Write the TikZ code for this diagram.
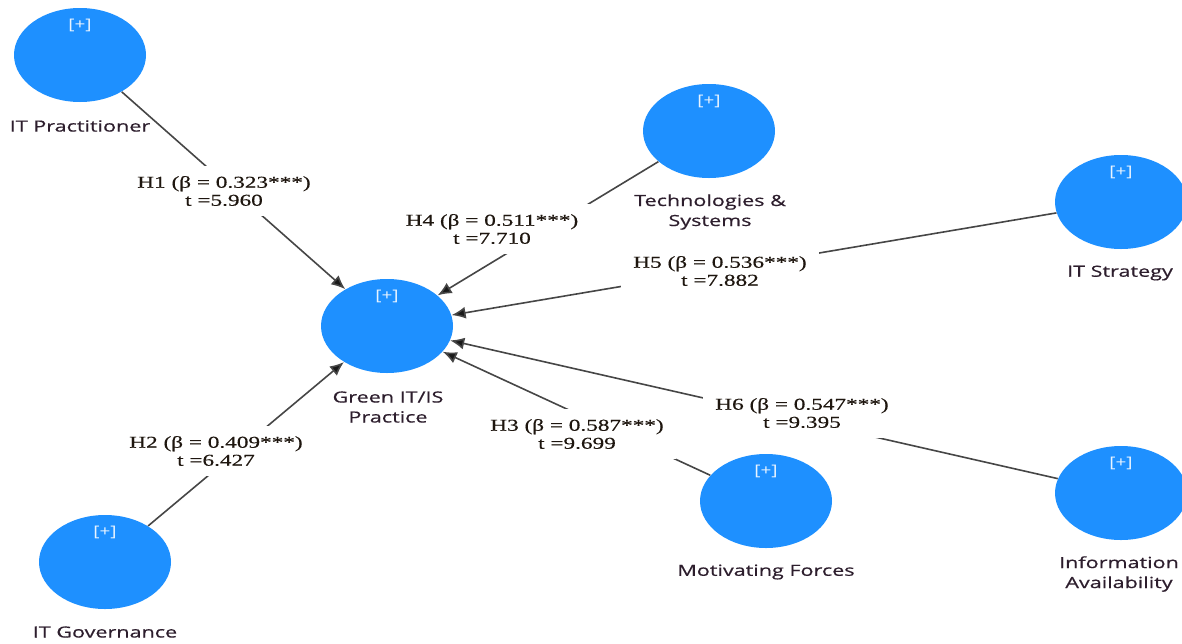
\documentclass[tikz,border=0pt]{standalone}
\usepackage{fontspec}
\usetikzlibrary{shapes.geometric,arrows.meta}
\newfontfamily\namefont{Open Sans}[FakeStretch=1.4,FakeBold=0.6]
\newfontfamily\plusfont{Open Sans}[FakeStretch=1.3]
\newfontfamily\pathfont{Liberation Serif}[FakeStretch=1.4,FakeBold=0.4]
\definecolor{lvblue}{RGB}{30,144,255}
\definecolor{nametext}{RGB}{45,30,45}
\definecolor{pathtext}{RGB}{30,22,15}
\definecolor{edgecol}{RGB}{70,70,70}
\begin{document}
\begin{tikzpicture}[x=0.5pt,y=-0.5pt,
  lv/.style={ellipse, fill=lvblue, minimum width=66pt, minimum height=47pt, inner sep=0pt},
  plus/.style={text=white!90!lvblue, font=\plusfont\fontsize{7.3}{8}\selectfont, inner sep=0pt},
  lvname/.style={text=nametext, font=\namefont\fontsize{7.7}{10}\selectfont, align=center, inner sep=0pt},
  pathlbl/.style={text=pathtext, font=\pathfont\fontsize{8.3}{9}\selectfont, align=center, fill=white, inner xsep=6pt, inner ysep=5pt},
  link/.style={draw=edgecol, line width=0.8pt, -{Latex[length=7pt,width=6pt,fill=black!90]}}]
\useasboundingbox (0,0) rectangle (1182,643);

% latent variables
\node[lv] (prac)  at (80,55)   {};
\node[lv] (green) at (387,326) {};
\node[lv] (tech)  at (709,131) {};
\node[lv] (strat) at (1121,202) {};
\node[lv] (info)  at (1121,493) {};
\node[lv] (gov)   at (105,562) {};
\node[lv] (motiv) at (766,501) {};

% [+] markers
\node[plus] (pprac)  at (80,25)   {[+]};
\node[plus] (pgreen) at (387,296) {[+]};
\node[plus] (ptech)  at (709,101) {[+]};
\node[plus] (pstrat) at (1121,172) {[+]};
\node[plus] (pinfo)  at (1121,463) {[+]};
\node[plus] (pgov)   at (105,532) {[+]};
\node[plus] (pmotiv) at (766,471) {[+]};

% names
\node[lvname] (nprac)  at (80,126)   {IT Practitioner};
\node[lvname] (ngreen) at (388,407)  {Green IT/IS\\Practice};
\node[lvname] (ntech)  at (710,212)  {Technologies \&\\Systems};
\node[lvname] (nstrat) at (1120,273) {IT Strategy};
\node[lvname] (ninfo)  at (1119,574) {Information\\Availability};
\node[lvname] (ngov)   at (105,632)  {IT Governance};
\node[lvname] (nmotiv) at (766,572)  {Motivating Forces};

% paths
\draw[link] (prac)  -- (green);
\draw[link] (gov)   -- (green);
\draw[link] (motiv) -- (green);
\draw[link] (tech)  -- (green);
\draw[link] (strat) -- (green);
\draw[link] (info)  -- (green);

% path labels
\node[pathlbl] (h1) at (224,191) {H1 (β = 0.323***)\\t =5.960};
\node[pathlbl] (h2) at (216,451) {H2 (β = 0.409***)\\t =6.427};
\node[pathlbl] (h3) at (577,434) {H3 (β = 0.587***)\\t =9.699};
\node[pathlbl] (h4) at (492,229) {H4 (β = 0.511***)\\t =7.710};
\node[pathlbl] (h5) at (720,271) {H5 (β = 0.536***)\\t =7.882};
\node[pathlbl] (h6) at (802,413) {H6 (β = 0.547***)\\t =9.395};
\end{tikzpicture}
\end{document}
